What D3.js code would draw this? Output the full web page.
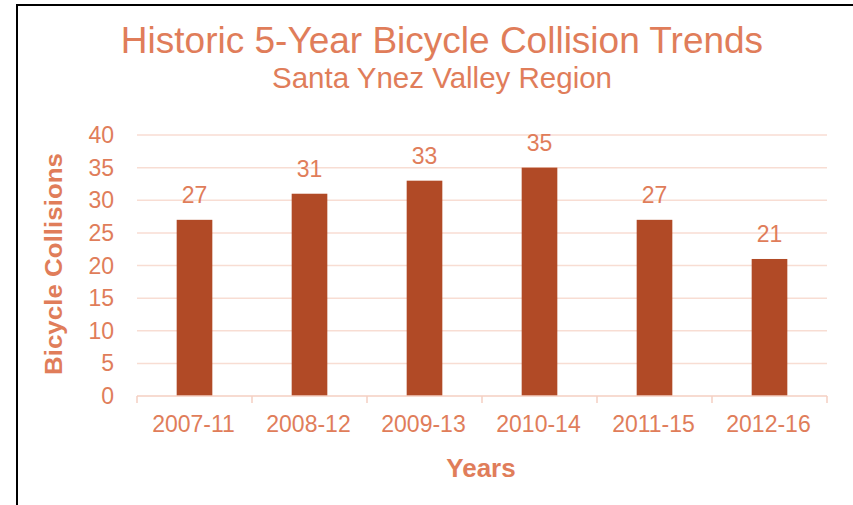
<!DOCTYPE html>
<html>
<head>
<meta charset="utf-8">
<script src="https://cdn.jsdelivr.net/npm/d3@7"></script>
<style>
  body { margin: 0; background: #fff; }
  svg { display: block; font-family: "Liberation Sans", Arial, sans-serif; }
</style>
</head>
<body>
<svg id="chart" width="853" height="505"></svg>
<script>
var periods = ["2007-11", "2008-12", "2009-13", "2010-14", "2011-15", "2012-16"];
var collisions = [27, 31, 33, 35, 27, 21];
var yTicks = [0, 5, 10, 15, 20, 25, 30, 35, 40];

var txt = "#E07D5A", barFill = "#B14A26", grid = "#F8DDD3";
var svg = d3.select("#chart");

// frame (right and bottom edges fall outside the picture)
svg.append("rect").attr("x", 17).attr("y", 5).attr("width", 900).attr("height", 600)
  .attr("fill", "none").attr("stroke", "#000").attr("stroke-width", 2);

var m = { left: 137, right: 827, top: 135, bottom: 396 };
var x = d3.scaleBand().domain(periods).range([m.left, m.right]).paddingInner(0.69).paddingOuter(0.345);
var xb = d3.scaleBand().domain(periods).range([m.left, m.right]);
var y = d3.scaleLinear().domain([0, 40]).range([m.bottom, m.top]);

svg.append("g").selectAll("line").data(yTicks.slice(1)).join("line")
  .attr("x1", m.left).attr("x2", m.right)
  .attr("y1", function (d) { return y(d); }).attr("y2", function (d) { return y(d); })
  .attr("stroke", grid).attr("stroke-width", 1.5);

svg.append("g").selectAll("text").data(yTicks).join("text")
  .attr("x", 114).attr("y", function (d) { return y(d) + 8; })
  .attr("text-anchor", "end").attr("fill", txt).style("font-size", "23px")
  .text(function (d) { return d; });

svg.append("g").selectAll("rect").data(collisions).join("rect")
  .attr("x", function (d, i) { return x(periods[i]); })
  .attr("y", function (d) { return y(d); })
  .attr("width", x.bandwidth())
  .attr("height", function (d) { return y(0) - y(d); })
  .attr("fill", barFill);

// x axis line with ticks at category boundaries
var ax = svg.append("g").attr("stroke", "#F4CFC2").attr("stroke-width", 1.5);
ax.append("line").attr("x1", m.left).attr("x2", m.right).attr("y1", y(0)).attr("y2", y(0));
ax.selectAll("line.t").data(periods.concat(["end"])).join("line").attr("class", "t")
  .attr("x1", function (d, i) { return m.left + i * xb.bandwidth(); })
  .attr("x2", function (d, i) { return m.left + i * xb.bandwidth(); })
  .attr("y1", y(0)).attr("y2", y(0) + 7);

svg.append("g").selectAll("text").data(periods).join("text")
  .attr("x", function (d) { return xb(d) + xb.bandwidth() / 2 - 1; })
  .attr("y", 432).attr("text-anchor", "middle").attr("fill", txt).style("font-size", "23px")
  .text(function (d) { return d; });

svg.append("g").selectAll("text").data(collisions).join("text")
  .attr("x", function (d, i) { return x(periods[i]) + x.bandwidth() / 2; })
  .attr("y", function (d) { return y(d) - 17; })
  .attr("text-anchor", "middle").attr("fill", txt).style("font-size", "23px")
  .text(function (d) { return d; });

svg.append("text").attr("x", 442).attr("y", 53).attr("text-anchor", "middle")
  .attr("fill", txt).style("font-size", "37px").text("Historic 5-Year Bicycle Collision Trends");
svg.append("text").attr("x", 442).attr("y", 88).attr("text-anchor", "middle")
  .attr("fill", txt).style("font-size", "29.5px").text("Santa Ynez Valley Region");

svg.append("text").attr("transform", "translate(62,264) rotate(-90)").attr("text-anchor", "middle")
  .attr("textLength", 222).attr("lengthAdjust", "spacingAndGlyphs")
  .attr("fill", txt).style("font-size", "24px").style("font-weight", "bold").text("Bicycle Collisions");
svg.append("text").attr("x", 481).attr("y", 477).attr("text-anchor", "middle")
  .attr("fill", txt).style("font-size", "26px").style("font-weight", "bold").text("Years");
</script>
</body>
</html>
